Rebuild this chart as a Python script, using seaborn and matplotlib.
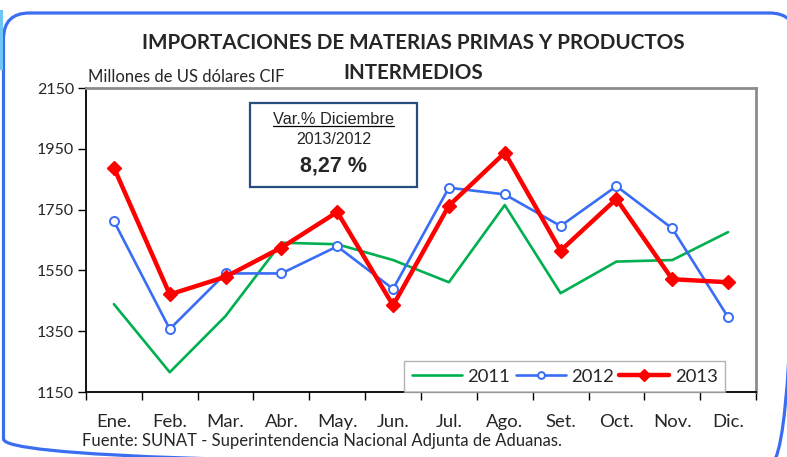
import numpy as np
import pandas as pd
import matplotlib
matplotlib.use("Agg")
import matplotlib.pyplot as plt
from matplotlib.patches import FancyBboxPatch, Rectangle
from matplotlib.lines import Line2D
import seaborn as sns

# Monthly imports of raw materials and intermediate goods (US$ millions, CIF)
meses = ["Ene.", "Feb.", "Mar.", "Abr.", "May.", "Jun.",
         "Jul.", "Ago.", "Set.", "Oct.", "Nov.", "Dic."]
anios = ["2011", "2012", "2013"]
v2011 = [1439, 1215, 1400, 1641, 1636, 1584, 1511, 1765, 1475, 1579, 1584, 1676]
v2012 = [1712, 1357, 1540, 1540, 1629, 1489, 1822, 1800, 1696, 1827, 1688, 1396]
v2013 = [1888, 1471, 1529, 1625, 1742, 1435, 1763, 1937, 1615, 1785, 1521, 1511]
y_ticks = [1150, 1350, 1550, 1750, 1950, 2150]
var_dic = "8,27 %"

df = pd.DataFrame({
    "mes": np.tile(np.arange(len(meses)), 3),
    "valor": v2011 + v2012 + v2013,
    "anio": np.repeat(anios, len(meses)),
})

sns.set_theme(style="white")
plt.rcParams["font.family"] = ["Lato", "DejaVu Sans"]

W, H = 787, 457
fig = plt.figure(figsize=(W / 100, H / 100), dpi=100)
fig.patch.set_facecolor("white")

# background layer in pixel units for the rounded panel frame
bg = fig.add_axes([0, 0, 1, 1], zorder=-1)
bg.set_xlim(0, W)
bg.set_ylim(H, 0)
bg.axis("off")
bg.add_patch(FancyBboxPatch((3.5, 13), 792, 452,
                            boxstyle="round,pad=0,rounding_size=26",
                            facecolor="none", edgecolor="#3A6DF0",
                            linewidth=2.3))
bg.add_patch(Rectangle((0, 10), 2.5, 60, facecolor="#6EC6F5",
                       edgecolor="none"))

ax = fig.add_axes([86 / W, 1 - 392 / H, 670 / W, 304 / H])

styles = {
    "2011": dict(color="#00B050", lw=1.9, marker=None, ms=0, mfc="none", mew=0),
    "2012": dict(color="#3A6DF5", lw=1.9, marker="o", ms=6.5, mfc="white", mew=1.4),
    "2013": dict(color="#FF0000", lw=3.2, marker="D", ms=7.5, mfc="#FF0000", mew=1),
}
for anio in anios:
    st = styles[anio]
    sub = df[df["anio"] == anio]
    sns.lineplot(data=sub, x="mes", y="valor", ax=ax, color=st["color"],
                 linewidth=st["lw"], marker=st["marker"], markersize=st["ms"],
                 markerfacecolor=st["mfc"], markeredgecolor=st["color"],
                 markeredgewidth=st["mew"], label=anio, legend=False,
                 sort=False, zorder=3 if anio == "2013" else 2)

ax.set_xlim(-0.5, len(meses) - 0.5)
ax.set_ylim(y_ticks[0], y_ticks[-1])
ax.set_yticks(y_ticks)
ax.set_yticklabels([str(t) for t in y_ticks], fontsize=11.5)
ax.set_xticks(np.arange(-0.5, len(meses)), labels=[])
ax.set_xticks(np.arange(len(meses)), labels=meses, minor=True)
ax.tick_params(axis="x", which="major", direction="out", length=5.5,
               width=1, color="black", bottom=True)
ax.tick_params(axis="x", which="minor", length=0, pad=16, labelsize=13.3)
ax.tick_params(axis="y", direction="out", length=5.5, width=1, color="black",
               left=True, pad=3)
ax.set_xlabel("")
ax.set_ylabel("")
ax.grid(False)
for s in ["left", "bottom"]:
    ax.spines[s].set_color("black")
    ax.spines[s].set_linewidth(1.3)
for s in ["top", "right"]:
    ax.spines[s].set_color("#8C8C8C")
    ax.spines[s].set_linewidth(2)

# legend
handles = [Line2D([], [], color=styles[a]["color"], lw=styles[a]["lw"],
                  marker=styles[a]["marker"], ms=styles[a]["ms"] * 0.75,
                  mfc=styles[a]["mfc"], mec=styles[a]["color"],
                  mew=styles[a]["mew"]) for a in anios]
leg = ax.legend(handles, anios, loc="lower right", bbox_to_anchor=(0.954, 0),
                borderaxespad=0, ncol=3, frameon=True, fancybox=False,
                fontsize=13.3, handlelength=2.7, columnspacing=0.3,
                handletextpad=0.3, borderpad=0.4)
leg.get_frame().set_edgecolor("#A0A0A0")
leg.get_frame().set_linewidth(1)

# December variation box
fig.patches.append(Rectangle((250 / W, 1 - 187 / H), 167 / W, 84 / H,
                             transform=fig.transFigure, facecolor="white",
                             edgecolor="#264D7E", linewidth=1.6, zorder=5))
cx = 333.5 / W
box_font = ["Liberation Sans", "DejaVu Sans"]
t1 = fig.text(cx, 1 - 119 / H, "Var.% Diciembre", ha="center", va="center",
              fontsize=11.8, family=box_font, zorder=6)
fig.text(cx, 1 - 140 / H, "2013/2012", ha="center", va="center",
         fontsize=11.5, family=box_font, zorder=6)
fig.text(cx, 1 - 166 / H, var_dic, ha="center", va="center",
         fontsize=15.5, fontweight="bold", family=box_font, zorder=6)
fig.canvas.draw()
bb = t1.get_window_extent().transformed(fig.transFigure.inverted())
fig.add_artist(Line2D([bb.x0, bb.x1], [bb.y0 + 0.5 / H, bb.y0 + 0.5 / H],
                      transform=fig.transFigure, color="black", lw=0.9,
                      zorder=6))

# titles and notes
fig.text(413 / W, 1 - 43 / H, "IMPORTACIONES DE MATERIAS PRIMAS Y PRODUCTOS",
         ha="center", va="center", fontsize=14.9, fontweight="bold")
fig.text(413 / W, 1 - 73 / H, "INTERMEDIOS", ha="center", va="center",
         fontsize=14.9, fontweight="bold")
fig.text(88 / W, 1 - 77 / H, "Millones de US dólares CIF", ha="left",
         va="center", fontsize=12)
fig.text(82 / W, 1 - 441 / H,
         "Fuente: SUNAT - Superintendencia Nacional Adjunta de Aduanas.",
         ha="left", va="center", fontsize=12)

fig.savefig("out.png", dpi=100)
